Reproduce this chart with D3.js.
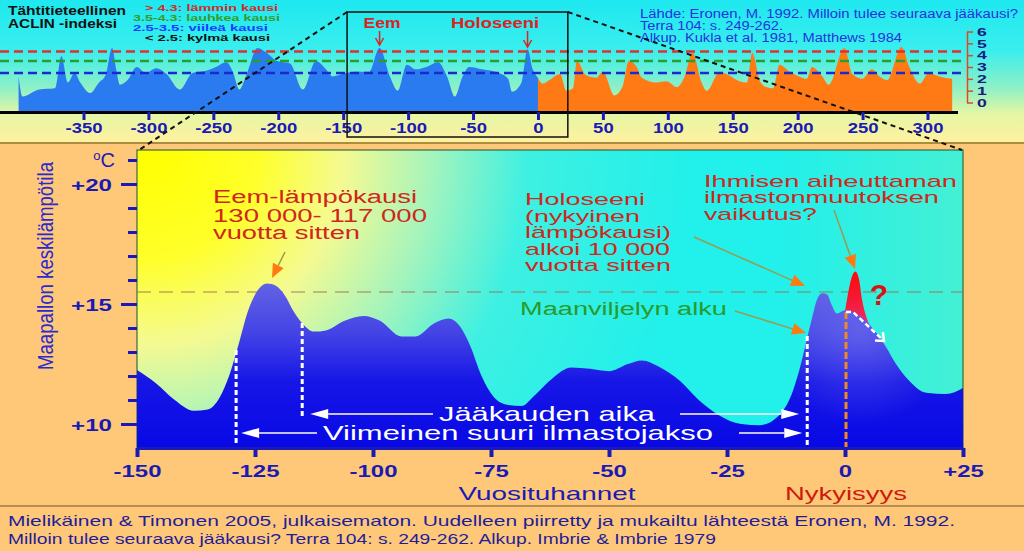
<!DOCTYPE html>
<html><head><meta charset="utf-8">
<script src="https://cdn.jsdelivr.net/npm/d3@7"></script>
<style>html,body{margin:0;padding:0;background:#FFC878;} svg{display:block}</style>
</head><body>
<svg id="c" width="1024" height="551"></svg>
<script>
// ---------- DATA ----------
// ACLIN index (top panel), thousands of years, past (blue) and future (orange)
const aclinPastYears  = [-400,-397,-384,-372,-367,-362,-357,-352,-345,-338,-333,-328,-325,-322,-316,-309,-302,-294,-286,-276,-266,-255,-248,-240,-235,-230,-224,-216,-209,-201,-191,-181,-171,-164,-158,-151,-141,-130,-122,-114,-108,-101,-94,-86,-77,-70,-64,-58,-53,-43,-30,-23,-20,-13,-8,-4,0];
const aclinPastValues = [2.2,0.5,1.1,1.2,3.9,1.7,2.5,1.6,0.8,1.7,2.3,4.6,2.9,1.5,1.9,3.0,2.5,2.9,2.4,1.1,2.5,2.7,3.0,3.4,2.6,1.1,2.5,4.6,4.2,3.5,3.3,1.1,3.5,2.9,2.2,2.4,2.6,2.6,4.6,2.2,1.0,3.2,2.8,3.0,3.4,2.2,0.5,2.2,3.0,2.8,2.5,2.0,0.9,1.6,4.5,2.8,2.1];
const aclinFutureYears  = [0,3.5,9,17,22,27,30,37,45,50,59,65,70,76,80,91,99,107,113,119,126,130,140,147,155,161,165,171,176,181,186,194,201,207,211,219,224,236,242,250,257,263,269,280,286,294,301,309,319];
const aclinFutureValues = [2.1,1.6,1.9,2.4,1.0,1.2,3.5,2.3,2.1,2.6,0.6,1.3,3.5,3.0,2.1,1.7,1.8,1.3,2.2,4.2,1.7,1.0,2.6,2.3,1.8,1.7,4.2,1.8,1.3,1.2,3.2,2.6,2.2,2.0,3.0,2.2,1.5,4.6,2.4,2.0,2.8,2.2,1.9,4.7,3.0,1.6,2.5,2.2,2.0];
const aclinThresholds = [4.3, 3.5, 2.5];
const topTicks = [-350,-300,-250,-200,-150,-100,-50,0,50,100,150,200,250,300];
const topIndexTicks = [0,1,2,3,4,5,6];

// Global mean temperature (main panel)
const tempYears  = [-150,-146,-142,-138,-135,-132.5,-130.5,-128.5,-126.5,-124.5,-122.5,-120.5,-118.5,-117,-115,-112.5,-110,-106,-102,-98.5,-94,-91,-87,-84,-81.5,-79.5,-77,-74.5,-71.5,-68.5,-66,-62,-58,-54,-50,-46,-43,-39.5,-35,-31,-27,-22,-18,-14,-11,-9.2,-8,-7,-6,-4.8,-3.8,-2.8,-1.7,-0.6,0.5,2.3,4.4,6.6,8.7,10.8,13.6,17.2,21.4,25];
const tempValues = [12.25,11.7,11.0,10.55,10.6,11.1,12.0,13.3,14.7,15.55,15.85,15.75,15.3,14.75,14.2,13.85,13.9,14.3,14.5,14.3,13.65,13.65,14.2,14.4,14.05,13.3,12.0,11.15,10.8,10.75,11.15,11.9,12.35,12.3,12.2,12.5,12.65,12.4,11.8,11.0,10.4,10.0,9.95,10.35,11.4,12.6,13.6,14.4,15.15,15.45,15.4,14.95,14.6,14.7,14.75,14.6,14.3,13.8,13.2,12.5,11.8,11.3,11.25,11.5];
// Possible human-induced warming spike
const spikeYears  = [0,0.7,1.4,2.2,3.0,3.6,4.3,5.0,5.6];
const spikeValues = [14.7,15.5,16.1,16.35,16.0,15.2,14.6,14.2,13.95];
const refTemp = 15.5;
const mainTicks = [-150,-125,-100,-75,-50,-25,0,25];
const tempTicksMajor = [10,15,20];
const tempTicksMinor = [10,11,12,13,14,15,16,17,18,19,20,21];

// ---------- SETUP ----------
const FONT = "'Liberation Sans', Arial, Helvetica, sans-serif";
const svg = d3.select('#c');
const defs = svg.append('defs');
function lin(id,x1,y1,x2,y2,stops){
  const g=defs.append('linearGradient').attr('id',id).attr('gradientUnits','userSpaceOnUse')
    .attr('x1',x1).attr('y1',y1).attr('x2',x2).attr('y2',y2);
  stops.forEach(s=>g.append('stop').attr('offset',s[0]).attr('stop-color',s[1]).attr('stop-opacity',s[2]==null?1:s[2]));
}
function rad(id,cx,cy,r,stops){
  const g=defs.append('radialGradient').attr('id',id).attr('gradientUnits','userSpaceOnUse')
    .attr('cx',cx).attr('cy',cy).attr('r',r);
  stops.forEach(s=>g.append('stop').attr('offset',s[0]).attr('stop-color',s[1]).attr('stop-opacity',s[2]==null?1:s[2]));
}
function T(x,y,s,o){
  const t=svg.append('text').attr('x',x).attr('y',y).attr('font-family',o.font||FONT)
    .attr('font-size',o.size).attr('font-weight',o.bold?'bold':'normal')
    .attr('fill',o.color).attr('text-anchor',o.anchor||'start').text(s);
  if(o.w) t.attr('textLength',o.w).attr('lengthAdjust','spacingAndGlyphs');
  return t;
}
function stretch(sel,k){
  sel.each(function(){const L=this.getComputedTextLength();
    d3.select(this).attr('textLength',L*k).attr('lengthAdjust','spacingAndGlyphs');});
}

lin('gTop',0,0,0,142,[[0,'#1ee8f0'],[0.35,'#3aeeee'],[0.62,'#8ef0c6'],[0.8,'#e4f6a4'],[1,'#fff1a0']]);
rad('gMain',150,150,540,[[0,'#ffff00'],[0.2,'#ffff2a'],[0.36,'#f4fa92'],[0.52,'#a6f4bc'],[0.7,'#3ef0e2'],[1,'#22f0ea']]);
lin('gRight',780,0,963,0,[[0,'#5af0c8',0],[1,'#5af0c4',0.6]]);
lin('gBlue',0,283,0,448,[[0,'#6262e4'],[0.3,'#4444e6'],[0.6,'#1616e6'],[1,'#0808e6']]);
rad('gHolo',860,335,90,[[0,'#8080f0',0.45],[1,'#8080f0',0]]);
lin('gRed',0,272,0,322,[[0,'#ff0a0a'],[0.6,'#f51a3a'],[1,'#ee2a6a']]);

// page background
svg.append('rect').attr('width',1024).attr('height',551).attr('fill','#FFC878');

// ---------- TOP PANEL ----------
const xTop = d3.scaleLinear().domain([-350,300]).range([83.5,927.5]);
const yTop = d3.scaleLinear().domain([0,6]).range([102.5,31.5]);
const topBase = 112;

svg.append('rect').attr('x',0).attr('y',0).attr('width',1024).attr('height',142).attr('fill','url(#gTop)');
svg.append('line').attr('x1',0).attr('x2',1024).attr('y1',143).attr('y2',143).attr('stroke','#8f7a30').attr('stroke-width',1.5);

const areaTop = d3.area().x(d=>xTop(d[0])).y0(topBase).y1(d=>yTop(d[1])).curve(d3.curveMonotoneX);
svg.append('path').datum(d3.zip(aclinPastYears,aclinPastValues)).attr('d',areaTop).attr('fill','#2a7af0');
svg.append('path').datum(d3.zip(aclinFutureYears,aclinFutureValues)).attr('d',areaTop).attr('fill','#ff7a14');

const thrColors = ['#e03030','#28a028','#1a2ad0'];
aclinThresholds.forEach((v,i)=>{
  svg.append('line').attr('x1',0).attr('x2',965).attr('y1',yTop(v)).attr('y2',yTop(v))
    .attr('stroke',thrColors[i]).attr('stroke-width',2.5).attr('stroke-dasharray','9,5');
});

// baseline
svg.append('line').attr('x1',0).attr('x2',958).attr('y1',topBase+0.5).attr('y2',topBase+0.5).attr('stroke','#000').attr('stroke-width',3);

const gTopAx = svg.append('g').attr('transform',`translate(0,${topBase})`)
  .call(d3.axisBottom(xTop).tickValues(topTicks).tickSize(8).tickSizeOuter(0).tickFormat(d=>String(d)));
gTopAx.select('.domain').remove();
gTopAx.selectAll('.tick line').attr('stroke','#1a1ab4').attr('stroke-width',3);
gTopAx.selectAll('.tick text').attr('y',21).attr('dy',0).attr('fill','#1a1ab4')
  .attr('font-family',FONT).attr('font-size',14).attr('font-weight','bold');
stretch(gTopAx.selectAll('.tick text'),1.32);

const gIdx = svg.append('g').attr('transform','translate(967,0)')
  .call(d3.axisRight(yTop).tickValues(topIndexTicks).tickSize(6).tickPadding(4).tickSizeOuter(0).tickFormat(d3.format('d')));
gIdx.select('.domain').attr('stroke','#e04a20').attr('stroke-width',1.5);
gIdx.selectAll('.tick line').attr('stroke','#e04a20').attr('stroke-width',1.5);
gIdx.selectAll('.tick text').attr('fill','#1a1a80').attr('font-family',FONT).attr('font-size',11).attr('font-weight','bold').attr('dy','0.34em');
stretch(gIdx.selectAll('.tick text'),1.6);

// zoom box
svg.append('rect').attr('x',xTop(-147)).attr('y',12).attr('width',xTop(23)-xTop(-147)).attr('height',125)
  .attr('fill','none').attr('stroke','#111').attr('stroke-width',1.5);

// legend texts
T(8,15,'Tähtitieteellinen',{size:12,bold:true,color:'#111',w:118});
T(8,28,'ACLIN -indeksi',{size:12,bold:true,color:'#111',w:109});
T(145,11,'> 4.3: lämmin kausi',{size:9.5,bold:true,color:'#d42a2a',w:133});
T(133,21,'3.5-4.3: lauhkea kausi',{size:9.5,bold:true,color:'#3a9a2a',w:147});
T(133,31,'2.5-3.5: viileä kausi',{size:9.5,bold:true,color:'#1a3cff',w:135});
T(145,41,'< 2.5: kylmä kausi',{size:9.5,bold:true,color:'#111',w:125});

T(640,18,'Lähde:  Eronen, M. 1992. Milloin tulee seuraava jääkausi?',{size:12,color:'#2233dd',w:378});
T(640,30,'Terra 104: s. 249-262.',{size:12,color:'#2233dd',w:143});
T(640,42,'Alkup. Kukla et al. 1981, Matthews 1984',{size:12,color:'#2233dd',w:262});

T(382,28,'Eem',{size:14,bold:true,color:'#dd2222',anchor:'middle',w:37});
T(495,28,'Holoseeni',{size:14,bold:true,color:'#dd2222',anchor:'middle',w:88});
[-122,-8].forEach((yr,i)=>{
  const x=xTop(yr), y2= i===0?45:47;
  svg.append('line').attr('x1',x).attr('x2',x).attr('y1',31).attr('y2',y2).attr('stroke','#dd2222').attr('stroke-width',1.5);
  svg.append('polyline').attr('points',`${x-4},${y2-7} ${x},${y2} ${x+4},${y2-7}`).attr('fill','none').attr('stroke','#dd2222').attr('stroke-width',1.5);
});

// ---------- MAIN PANEL ----------
const xMain = d3.scaleLinear().domain([-150,25]).range([137,963]);
const yMain = d3.scaleLinear().domain([10,20]).range([424,184]);
const mTop = 150, mBot = yMain(9);
const mL = xMain(-150), mR = xMain(25);

svg.append('rect').attr('x',mL).attr('y',mTop).attr('width',mR-mL).attr('height',mBot-mTop).attr('fill','url(#gMain)');
svg.append('rect').attr('x',780).attr('y',mTop).attr('width',mR-780).attr('height',mBot-mTop).attr('fill','url(#gRight)');
svg.append('rect').attr('x',mL).attr('y',mTop).attr('width',mR-mL).attr('height',mBot-mTop).attr('fill','none').attr('stroke','#3a6a40').attr('stroke-width',1.2);

// reference dashed line
svg.append('line').attr('x1',mL).attr('x2',mR).attr('y1',yMain(refTemp)).attr('y2',yMain(refTemp))
  .attr('stroke','#9a7050').attr('stroke-opacity',0.6).attr('stroke-width',1.5).attr('stroke-dasharray','14,8');

const areaMain = d3.area().x(d=>xMain(d[0])).y0(mBot).y1(d=>yMain(d[1])).curve(d3.curveMonotoneX);
svg.append('path').datum(d3.zip(spikeYears,spikeValues)).attr('d',areaMain).attr('fill','url(#gRed)');
const tempPts = d3.zip(tempYears,tempValues);
svg.append('path').datum(tempPts).attr('d',areaMain).attr('fill','url(#gBlue)');
svg.append('path').datum(tempPts).attr('d',areaMain).attr('fill','url(#gHolo)');

// dashed verticals
[[-129,350,443],[-115,323,416],[-8,336,448]].forEach(d=>{
  svg.append('line').attr('x1',xMain(d[0])).attr('x2',xMain(d[0])).attr('y1',d[1]).attr('y2',d[2])
    .attr('stroke','#fff').attr('stroke-width',3).attr('stroke-dasharray','5,3');
});
svg.append('line').attr('x1',xMain(0)+1).attr('x2',xMain(0)+1).attr('y1',312).attr('y2',448)
  .attr('stroke','#f08a20').attr('stroke-width',3).attr('stroke-dasharray','7,3');

// white dashed arrow down the slope
(function(){
  const p=[[xMain(0)+1,312],[853,312],[884,341]];
  svg.append('polyline').attr('points',p.map(q=>q.join(',')).join(' ')).attr('fill','none')
    .attr('stroke','#fff').attr('stroke-width',2.5).attr('stroke-dasharray','5,3');
  const a=Math.atan2(p[2][1]-p[1][1],p[2][0]-p[1][0]), L=9;
  const b1=a+Math.PI-0.7,b2=a+Math.PI+0.7;
  svg.append('polyline').attr('points',`${p[2][0]+L*Math.cos(b1)},${p[2][1]+L*Math.sin(b1)} ${p[2][0]},${p[2][1]} ${p[2][0]+L*Math.cos(b2)},${p[2][1]+L*Math.sin(b2)}`)
    .attr('fill','none').attr('stroke','#fff').attr('stroke-width',2.5);
})();

// white period arrows
function wArrow(xFrom,xTip,y){
  const dir=Math.sign(xTip-xFrom), hl=18;
  svg.append('line').attr('x1',xFrom).attr('x2',xTip-dir*hl).attr('y1',y).attr('y2',y).attr('stroke','#fff').attr('stroke-width',1.5);
  svg.append('polygon').attr('points',`${xTip},${y} ${xTip-dir*hl},${y-5} ${xTip-dir*hl},${y+5}`).attr('fill','#fff');
}
wArrow(433,xMain(-115)+8,414); wArrow(680,xMain(-8)-8,414);
wArrow(317,xMain(-129)+5,433); wArrow(739,xMain(-8)-5,433);
T(547,421,'Jääkauden aika',{size:21,color:'#fff',anchor:'middle',w:216});
T(518,440,'Viimeinen suuri ilmastojakso',{size:21,color:'#fff',anchor:'middle',w:390});

// annotation arrows (orange)
function oArrow(x1,y1,x2,y2){
  const a=Math.atan2(y2-y1,x2-x1), hl=14, hw=6;
  const bx=x2-hl*Math.cos(a), by=y2-hl*Math.sin(a);
  svg.append('line').attr('x1',x1).attr('y1',y1).attr('x2',bx).attr('y2',by).attr('stroke','#9a9a52').attr('stroke-width',1.5);
  svg.append('polygon').attr('points',`${x2},${y2} ${bx+hw*Math.sin(a)},${by-hw*Math.cos(a)} ${bx-hw*Math.sin(a)},${by+hw*Math.cos(a)}`).attr('fill','#ff7a10');
}
oArrow(285,252,272,278);
oArrow(694,237,805,286);
oArrow(834,210,855,269);
oArrow(735,311,806,333);

// annotation texts
const RED='#d0261c';
T(213,203,'Eem-lämpökausi',{size:18,color:RED,w:204});
T(213,222,'130 000- 117 000',{size:18,color:RED,w:214});
T(213,239,'vuotta sitten',{size:18,color:RED,w:147});

T(525,205,'Holoseeni',{size:17,color:RED,w:120});
T(525,222,'(nykyinen',{size:17,color:RED,w:115});
T(525,238,'lämpökausi)',{size:17,color:RED,w:146});
T(525,255,'alkoi 10 000',{size:17,color:RED,w:145});
T(525,271,'vuotta sitten',{size:17,color:RED,w:146});

T(704,187,'Ihmisen aiheuttaman',{size:17,color:RED,w:253});
T(704,203,'ilmastonmuutoksen',{size:17,color:RED,w:235});
T(704,220,'vaikutus?',{size:17,color:RED,w:113});

T(520,315,'Maanviljelyn alku',{size:18,color:'#2a9a2a',w:207});
T(879,305,'?',{size:30,bold:true,color:'#dd1111',anchor:'middle'});

// main x axis
const gX = svg.append('g').attr('transform',`translate(0,${mBot})`)
  .call(d3.axisBottom(xMain).tickValues(mainTicks).tickSize(9).tickSizeOuter(0).tickFormat(d=>d>0?'+'+d:String(d)));
gX.select('.domain').attr('stroke','#1a1ab4').attr('stroke-width',3);
gX.selectAll('.tick line').attr('stroke','#1a1ab4').attr('stroke-width',4);
gX.selectAll('.tick text').attr('y',29).attr('dy',0).attr('fill','#1a1ab4')
  .attr('font-family',FONT).attr('font-size',16.5).attr('font-weight','bold');
stretch(gX.selectAll('.tick text'),1.45);
T(547,500,'Vuosituhannet',{size:19,color:'#1a1ab4',anchor:'middle',w:177});
T(846,500,'Nykyisyys',{size:19,color:'#cc1a10',anchor:'middle',w:122});

// main y axis
const gYm = svg.append('g').attr('transform',`translate(${mL},0)`)
  .call(d3.axisLeft(yMain).tickValues(tempTicksMinor).tickSize(9).tickSizeOuter(0).tickFormat(''));
gYm.select('.domain').remove();
gYm.selectAll('.tick line').attr('stroke','#1a1ab4').attr('stroke-width',3);
const gY = svg.append('g').attr('transform','translate(133,0)')
  .call(d3.axisLeft(yMain).tickValues(tempTicksMajor).tickSize(12).tickPadding(9).tickSizeOuter(0).tickFormat(d=>'+'+d));
gY.select('.domain').remove();
gY.selectAll('.tick line').attr('stroke','#1a1ab4').attr('stroke-width',3);
gY.selectAll('.tick text').attr('dy','0.36em').attr('fill','#1a1ab4')
  .attr('font-family',FONT).attr('font-size',17).attr('font-weight','bold');
stretch(gY.selectAll('.tick text'),1.42);
const degT = svg.append('text').attr('x',115).attr('y',yMain(21)+7).attr('text-anchor','end')
  .attr('font-family',FONT).attr('fill','#1a1ab4');
degT.append('tspan').attr('font-size',13).attr('dy',-7).text('o');
degT.append('tspan').attr('font-size',20).attr('dy',7).text('C');

svg.append('text').attr('transform','translate(53,266) rotate(-90) scale(1,1.35)')
  .attr('text-anchor','middle').attr('font-family',FONT).attr('font-size',17).attr('fill','#2a2ad0')
  .attr('textLength',208).attr('lengthAdjust','spacingAndGlyphs').text('Maapallon keskilämpötila');

// connector dashed lines from zoom box to main panel
svg.append('line').attr('x1',xTop(-147)).attr('y1',12).attr('x2',mL+2).attr('y2',mTop)
  .attr('stroke','#111').attr('stroke-width',2).attr('stroke-dasharray','5,4');
svg.append('line').attr('x1',xTop(23)).attr('y1',12).attr('x2',mR-1).attr('y2',mTop)
  .attr('stroke','#111').attr('stroke-width',2).attr('stroke-dasharray','5,4');

// caption
svg.append('line').attr('x1',0).attr('x2',1024).attr('y1',506).attr('y2',506).attr('stroke','#a07a44').attr('stroke-width',1.5);
T(8,526,'Mielikäinen & Timonen 2005, julkaisematon. Uudelleen piirretty ja mukailtu lähteestä Eronen, M. 1992.',{size:15,color:'#1e1e9a',w:947});
T(8,544,'Milloin tulee  seuraava jääkausi? Terra 104: s. 249-262. Alkup. Imbrie & Imbrie 1979',{size:15,color:'#1e1e9a',w:708});
</script></body></html>
